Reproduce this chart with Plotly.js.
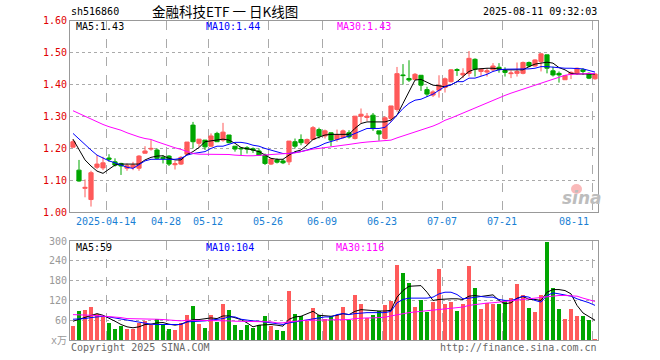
<!DOCTYPE html>
<html><head><meta charset="utf-8">
<script src="https://cdn.plot.ly/plotly-3.0.1.min.js"></script>
<style>html,body{margin:0;padding:0;background:#fff}#chart{width:660px;height:360px}</style>
</head><body><div id="chart"></div>
<script>
const dates = ['2025-04-03','2025-04-07','2025-04-08','2025-04-09','2025-04-10','2025-04-11','2025-04-14','2025-04-15','2025-04-16','2025-04-17','2025-04-18','2025-04-21','2025-04-22','2025-04-23','2025-04-24','2025-04-25','2025-04-28','2025-04-29','2025-04-30',
'2025-05-06','2025-05-07','2025-05-08','2025-05-09','2025-05-12','2025-05-13','2025-05-14','2025-05-15','2025-05-16','2025-05-19','2025-05-20','2025-05-21','2025-05-22','2025-05-23','2025-05-26','2025-05-27','2025-05-28','2025-05-29','2025-05-30',
'2025-06-03','2025-06-04','2025-06-05','2025-06-06','2025-06-09','2025-06-10','2025-06-11','2025-06-12','2025-06-13','2025-06-16','2025-06-17','2025-06-18','2025-06-19','2025-06-20','2025-06-23','2025-06-24','2025-06-25','2025-06-26','2025-06-27','2025-06-30',
'2025-07-01','2025-07-02','2025-07-03','2025-07-04','2025-07-07','2025-07-08','2025-07-09','2025-07-10','2025-07-11','2025-07-14','2025-07-15','2025-07-16','2025-07-17','2025-07-18','2025-07-21','2025-07-22','2025-07-23','2025-07-24','2025-07-25','2025-07-28','2025-07-29','2025-07-30','2025-07-31',
'2025-08-01','2025-08-04','2025-08-05','2025-08-06','2025-08-07','2025-08-08','2025-08-11'];

const openP = [1.204,1.132,1.075,1.040,1.141,1.139,1.170,1.158,1.153,1.138, 1.140,1.138,1.185,1.198,1.195,1.172,1.176,1.149,1.151,1.182, 1.273,1.216,1.226,1.207,1.247,1.226,1.242,1.207,1.201,1.202, 1.199,1.192,1.179,1.151,1.164,1.161,1.158,1.221,1.228,1.216, 1.228,1.259,1.239,1.249,1.228,1.234,1.249,1.231,1.301,1.297, 1.304,1.255,1.231,1.294,1.322,1.430,1.419,1.416,1.429,1.384, 1.367,1.382,1.391,1.409,1.447,1.430,1.435,1.479,1.441,1.439, 1.446,1.454,1.444,1.434,1.435,1.435,1.469,1.458,1.472,1.493, 1.443,1.435,1.415,1.432,1.435,1.446,1.435,1.418];
const highP = [1.228,1.164,1.103,1.130,1.179,1.174,1.182,1.169,1.155,1.153, 1.158,1.179,1.207,1.226,1.200,1.179,1.179,1.161,1.176,1.220, 1.283,1.229,1.226,1.247,1.252,1.280,1.242,1.207,1.203,1.207, 1.203,1.200,1.184,1.169,1.169,1.167,1.223,1.231,1.244,1.231, 1.270,1.265,1.259,1.249,1.259,1.259,1.257,1.301,1.325,1.311, 1.311,1.255,1.301,1.333,1.455,1.464,1.476,1.436,1.429,1.393, 1.382,1.429,1.422,1.448,1.451,1.451,1.505,1.482,1.451,1.451, 1.467,1.467,1.454,1.444,1.469,1.472,1.472,1.479,1.498,1.493, 1.456,1.441,1.430,1.441,1.453,1.451,1.438,1.435];
const lowP = [1.203,1.096,1.047,1.018,1.135,1.132,1.158,1.143,1.117,1.130, 1.132,1.130,1.184,1.193,1.166,1.153,1.145,1.134,1.148,1.179, 1.200,1.205,1.195,1.205,1.221,1.221,1.216,1.190,1.179,1.184, 1.186,1.179,1.148,1.148,1.153,1.151,1.148,1.200,1.210,1.210, 1.226,1.231,1.231,1.207,1.221,1.231,1.231,1.228,1.280,1.286, 1.255,1.224,1.228,1.283,1.315,1.400,1.408,1.414,1.380,1.361, 1.361,1.359,1.375,1.406,1.427,1.420,1.425,1.425,1.427,1.425, 1.441,1.437,1.425,1.420,1.425,1.432,1.454,1.456,1.441,1.435, 1.425,1.406,1.415,1.417,1.430,1.430,1.417,1.415];
const closeP = [1.221,1.098,1.078,1.124,1.151,1.155,1.166,1.148,1.145,1.146, 1.148,1.176,1.192,1.200,1.169,1.168,1.151,1.152,1.172,1.220, 1.221,1.229,1.205,1.239,1.221,1.251,1.218,1.198,1.199,1.198, 1.195,1.179,1.153,1.167,1.157,1.155,1.223,1.207,1.218,1.228, 1.265,1.239,1.255,1.226,1.242,1.255,1.236,1.301,1.307,1.301, 1.262,1.245,1.296,1.333,1.434,1.428,1.414,1.432,1.398,1.370, 1.377,1.398,1.418,1.446,1.444,1.435,1.482,1.448,1.448,1.443, 1.458,1.448,1.438,1.436,1.441,1.469,1.458,1.477,1.496,1.451, 1.430,1.430,1.428,1.438,1.451,1.441,1.420,1.433];

const ma5 = [1.229,1.195,1.164,1.145,1.129,1.122,1.134,1.148,1.151,1.151, 1.151,1.151,1.164,1.172,1.176,1.177,1.169,1.164,1.164,1.181, 1.190,1.203,1.221,1.224,1.226,1.229,1.226,1.216,1.203,1.200, 1.195,1.190,1.179,1.169,1.166,1.166,1.179,1.190,1.195,1.210, 1.228,1.234,1.242,1.244,1.244,1.244,1.244,1.263,1.278,1.283, 1.283,1.283,1.283,1.289,1.304,1.341,1.377,1.414,1.416,1.408, 1.398,1.396,1.393,1.399,1.409,1.425,1.441,1.448,1.450,1.451, 1.451,1.448,1.446,1.446,1.446,1.446,1.456,1.464,1.467,1.470, 1.467,1.453,1.446,1.435,1.433,1.433,1.433,1.433];
const ma10 = [1.247,1.229,1.210,1.195,1.179,1.169,1.161,1.155,1.148,1.141, 1.1375,1.148,1.161,1.166,1.166,1.166,1.166,1.166,1.169,1.179, 1.184,1.1875,1.190,1.200,1.207,1.207,1.214,1.219,1.219,1.216, 1.210,1.207,1.200,1.195,1.190,1.184,1.184,1.186,1.190,1.195, 1.200,1.207,1.216,1.221,1.228,1.233,1.239,1.247,1.257,1.2625, 1.2625,1.2625,1.266,1.283,1.304,1.325,1.341,1.351,1.354,1.361, 1.370,1.382,1.394,1.399,1.409,1.409,1.420,1.420,1.425,1.432, 1.441,1.446,1.448,1.448,1.448,1.449,1.449,1.451,1.456,1.456, 1.454,1.451,1.451,1.451,1.451,1.449,1.444,1.439];
const ma30 = [1.318,1.309,1.301,1.292,1.283,1.275,1.268,1.2625,1.257,1.249, 1.242,1.236,1.231,1.228,1.221,1.214,1.207,1.202,1.197,1.190, 1.184,1.182,1.182,1.182,1.181,1.181,1.181,1.179,1.177,1.177, 1.177,1.178,1.179,1.181,1.182,1.182,1.184,1.186,1.190,1.195, 1.198,1.200,1.202,1.205,1.207,1.210,1.2125,1.216,1.218,1.220, 1.222,1.223,1.224,1.226,1.233,1.239,1.245,1.251,1.257,1.2635, 1.270,1.278,1.288,1.295,1.303,1.310,1.319,1.328,1.335,1.343, 1.351,1.358,1.366,1.373,1.379,1.385,1.392,1.398,1.404,1.411, 1.417,1.423,1.429,1.432,1.433,1.434,1.435,1.435];

const volume = [43,87,90,100,80,73,52,33,42,33, 33,53,57,47,63,47,33,30,52,75, 102,48,36,75,54,108,90,45,30,45, 36,45,72,42,30,27,150,78,72,57, 96,75,63,72,75,100,60,138,108,68, 75,87,105,117,228,204,174,99,120,84, 114,214,108,114,87,108,225,157,93,112, 108,108,117,127,171,135,96,84,135,298, 159,93,63,93,72,72,60,3];
const vma5 = [57,63,70,75,80,75,67,57,47,40, 37,40,47,48,52,53,48,45,48,55, 62,62,65,67,65,73,73,67,62,52, 40,45,47,47,45,42,63,70,72,80, 87,75,73,72,75,80,77,87,92,90, 88,88,88,90,130,150,163,165,165,145, 120,123,125,125,125,123,133,135,132,135, 137,120,110,113,127,132,123,123,120,145, 153,153,150,140,105,82,70,60];
const vma10 = [63,63,65,68,71,72,70,67,62,60, 58,55,51,48,47,47,47,47,47,55, 57,57,58,60,62,65,70,70,63,60, 58,57,55,52,50,47,52,55,57,60, 63,67,70,70,77,80,77,80,82,83, 83,83,83,87,113,123,127,127,127,127, 130,140,145,145,138,125,127,130,132,130, 130,123,120,120,125,133,130,120,115,135, 143,140,137,133,125,120,113,105];
const vma30 = [77,77,76,75,74,73,72,70,68,65, 65,65,63,63,63,62,60,58,58,60, 60,60,59,59,58,58,58,57,57,57, 57,55,55,55,52,52,55,57,58,60, 60,60,60,60,62,62,62,65,67,67, 67,67,69,73,77,80,83,85,87,88, 90,93,93,95,97,100,105,108,110,112, 113,115,117,120,123,125,127,128,130,133, 135,135,135,135,133,127,123,117];

const tickDates = ['2025-04-14','2025-04-28','2025-05-12','2025-05-26','2025-06-09','2025-06-23','2025-07-07','2025-07-21','2025-08-11'];
const tickLabels = ['2025-04-14','04-28','05-12','05-26','06-09','06-23','07-07','07-21','08-11'];
const priceTicks = [1.00,1.10,1.20,1.30,1.40,1.50,1.60];
const volTicks = [0,60,120,180,240,300];
const volTickLabels = ['x万','60','120','180','240','300'];

const code = 'sh516860';
const titleText = '金融科技ETF 一 日K线图';
const stamp = '2025-08-11 09:32:03';
const maLabels = ['MA5:1.43','MA10:1.44','MA30:1.43'];
const vmaLabels = ['MA5:59','MA10:104','MA30:116'];

const UP = '#ff5a5a', DOWN = '#00a600';
const MONO = 'DejaVu Sans Mono, monospace';
const idx = dates.map((d, i) => i);
const tickPos = tickDates.map(d => dates.indexOf(d) - 0.5);
const tickTextShown = tickLabels.map((t, i) => i === tickLabels.length - 1 ? '' : t);
const volColors = idx.map(i => closeP[i] >= openP[i] ? UP : DOWN);

const L = 70, R = 598, T = 20, B = 340;
function A(text, px, py, anchor, color, size, family, extra) {
  return Object.assign({xref:'paper', yref:'paper', x:(px-L)/(R-L), y:(B-py)/(B-T),
    xanchor:anchor, yanchor:'middle', text:text, showarrow:false,
    font:{family:family||MONO, size:size||10, color:color||'#000'}}, extra||{});
}

const traces = [
  {type:'candlestick', x:idx, open:openP, high:highP, low:lowP, close:closeP,
   xaxis:'x', yaxis:'y', whiskerwidth:0, hoverinfo:'skip',
   increasing:{line:{color:UP, width:1}, fillcolor:UP},
   decreasing:{line:{color:DOWN, width:1}, fillcolor:DOWN}},
  {type:'scatter', mode:'lines', x:idx, y:ma5, xaxis:'x', yaxis:'y', line:{color:'#000000', width:1}, hoverinfo:'skip'},
  {type:'scatter', mode:'lines', x:idx, y:ma10, xaxis:'x', yaxis:'y', line:{color:'#0000ff', width:1}, hoverinfo:'skip'},
  {type:'scatter', mode:'lines', x:idx, y:ma30, xaxis:'x', yaxis:'y', line:{color:'#ff00ff', width:1}, hoverinfo:'skip'},
  {type:'bar', x:idx, y:volume, xaxis:'x2', yaxis:'y2', width:0.82, marker:{color:volColors, line:{width:0}}, hoverinfo:'skip'},
  {type:'scatter', mode:'lines', x:idx, y:vma5, xaxis:'x2', yaxis:'y2', line:{color:'#000000', width:1}, hoverinfo:'skip'},
  {type:'scatter', mode:'lines', x:idx, y:vma10, xaxis:'x2', yaxis:'y2', line:{color:'#0000ff', width:1}, hoverinfo:'skip'},
  {type:'scatter', mode:'lines', x:idx, y:vma30, xaxis:'x2', yaxis:'y2', line:{color:'#ff00ff', width:1}, hoverinfo:'skip'}
];

const gridX = {showgrid:true, gridcolor:'#aaaaaa', griddash:'dash', gridwidth:1, showline:true, mirror:true,
  linecolor:'#999999', linewidth:1, zeroline:false, ticks:'', range:[-0.5, 87.5], tickmode:'array', tickvals:tickPos, fixedrange:true};

const layout = {
  width:660, height:360, margin:{l:L, r:660-R, t:T, b:360-B, pad:0},
  paper_bgcolor:'#ffffff', plot_bgcolor:'#ffffff', showlegend:false,
  boxgap:0.3, boxgroupgap:0,
  bargap:0,
  xaxis:Object.assign({}, gridX, {anchor:'y', domain:[0,1], ticktext:tickTextShown,
    tickfont:{family:MONO, size:10, color:'#1a7fd4'}, rangeslider:{visible:false}}),
  xaxis2:Object.assign({}, gridX, {anchor:'y2', domain:[0,1], matches:'x', showticklabels:false}),
  yaxis:{domain:[0.399,0.998], range:[1.0,1.6], tickmode:'array', tickvals:priceTicks,
    ticktext:priceTicks.map(v => v.toFixed(2)), showgrid:true, gridcolor:'#aaaaaa', griddash:'dot',
    showline:true, mirror:true, linecolor:'#999999', linewidth:1, zeroline:false, ticks:'',
    tickfont:{family:MONO, size:10, color:'#e00000'}, fixedrange:true, anchor:'x'},
  yaxis2:{domain:[0,0.309], range:[0,300], tickmode:'array', tickvals:volTicks, ticktext:volTickLabels,
    showgrid:true, gridcolor:'#aaaaaa', griddash:'dot', showline:true, mirror:true, linecolor:'#999999',
    linewidth:1, zeroline:false, ticks:'', tickfont:{family:MONO + ', Noto Sans CJK SC', size:10, color:'#999999'},
    fixedrange:true, anchor:'x2'},
  annotations:[
    A(code, 69, 11, 'left', '#000', 10),
    A(titleText, 150, 11, 'left', '#000', 13.5, 'Noto Sans CJK SC, DejaVu Sans'),
    A(stamp, 599, 11, 'right', '#000', 10),
    A(maLabels[0], 74, 27, 'left', '#000000', 10),
    A(maLabels[1], 204, 27, 'left', '#0000ff', 10),
    A(maLabels[2], 335, 27, 'left', '#ff00ff', 10),
    A(vmaLabels[0], 74, 247, 'left', '#000000', 10),
    A(vmaLabels[1], 204, 247, 'left', '#0000ff', 10),
    A(vmaLabels[2], 334, 247, 'left', '#ff00ff', 10),
    A('Copyright 2025 SINA.COM', 69, 347, 'left', '#666666', 10),
    A('http://finance.sina.com.cn', 599, 347, 'right', '#666666', 10),
    Object.assign(A(tickLabels[tickLabels.length-1], 0, 0, 'right', '#1a7fd4', 10),
      {xref:'x', x:tickPos[tickPos.length-1] - 0.1, yref:'paper', y:0.399, yanchor:'top', yshift:-2}),
    Object.assign(A('sina', 582, 198, 'center', '#bbbbbb', 17, 'DejaVu Sans'), {font:{family:'DejaVu Sans', size:17, color:'#bdbdbd', weight:'bold', style:'italic'}})
  ],
  shapes:[
    {type:'circle', xref:'paper', yref:'paper', x0:(571-L)/(R-L), x1:(582-L)/(R-L), y0:(B-194)/(B-T), y1:(B-184)/(B-T),
     fillcolor:'rgba(245,130,130,0.55)', line:{width:0}, layer:'above'}
  ]
};

Plotly.newPlot('chart', traces, layout, {staticPlot:true, displayModeBar:false});
</script></body></html>
